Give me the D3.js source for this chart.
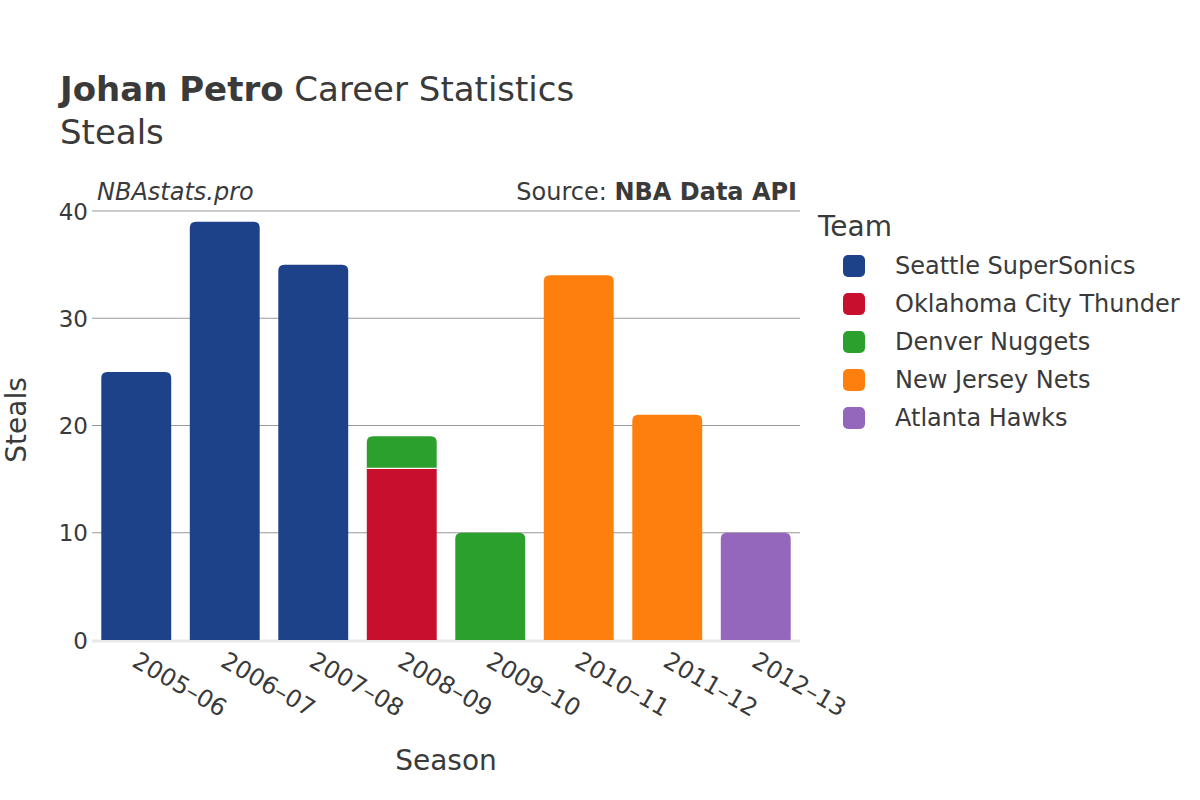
<!DOCTYPE html>
<html><head><meta charset="utf-8">
<script src="https://cdn.jsdelivr.net/npm/d3@7"></script>
<style>body{margin:0;background:#fff;} text{font-family:"DejaVu Sans",sans-serif;fill:#3a3a3a;}</style>
</head><body>
<svg id="chart" width="1200" height="800"></svg>
<script>
const seasons = ["2005–06","2006–07","2007–08","2008–09","2009–10","2010–11","2011–12","2012–13"];
const teams = ["Seattle SuperSonics","Oklahoma City Thunder","Denver Nuggets","New Jersey Nets","Atlanta Hawks"];
const teamColors = ["#1d428a","#c8102e","#2ca02c","#ff7f0e","#9467bd"];
const seattle = [25,39,35,0,0,0,0,0];
const okc     = [0,0,0,16,0,0,0,0];
const denver  = [0,0,0,3,10,0,0,0];
const nets    = [0,0,0,0,0,34,21,0];
const hawks   = [0,0,0,0,0,0,0,10];
const yTicks = [0,10,20,30,40];

const series = [seattle, okc, denver, nets, hawks];
const svg = d3.select("#chart");
const m = {left:92, right:800, top:211, bottom:640};
const x = d3.scaleBand().domain(seasons).range([m.left, m.right]).paddingInner(0.21).paddingOuter(0.105);
const y = d3.scaleLinear().domain([0,40]).range([m.bottom, m.top]);

// grid
const g = svg.append("g");
g.selectAll("line.grid").data(yTicks.filter(d=>d>0)).join("line")
  .attr("x1", m.left).attr("x2", m.right)
  .attr("y1", d=>y(d)).attr("y2", d=>y(d))
  .attr("stroke","#999").attr("stroke-width",1);
g.append("line").attr("x1",m.left).attr("x2",m.right).attr("y1",y(0)+1).attr("y2",y(0)+1)
  .attr("stroke","#e8e8e8").attr("stroke-width",3);

// y tick labels
const yAxis = d3.axisLeft(y).tickValues(yTicks).tickSize(0).tickPadding(4);
const ya = svg.append("g").attr("transform",`translate(${m.left},0)`).call(yAxis);
ya.select(".domain").remove();
ya.selectAll("text").style("font-size","23px").style("font-family","DejaVu Sans").attr("fill","#3a3a3a").attr("dy","0.35em");

// bars
function roundedTop(x0, y0, w, h, r){
  r = Math.min(r, h, w/2);
  return `M${x0},${y0+h}V${y0+r}Q${x0},${y0} ${x0+r},${y0}H${x0+w-r}Q${x0+w},${y0} ${x0+w},${y0+r}V${y0+h}Z`;
}
const bars = svg.append("g");
seasons.forEach((s, i) => {
  let base = 0;
  const segs = [];
  series.forEach((arr, t) => { if (arr[i] > 0) { segs.push({t, v0: base, v1: base + arr[i]}); base += arr[i]; } });
  segs.forEach((sg, k) => {
    const top = k === segs.length - 1;
    const x0 = x(s), w = x.bandwidth();
    const y0 = y(sg.v1), h = y(sg.v0) - y(sg.v1);
    if (top) bars.append("path").attr("d", roundedTop(x0, y0, w, h, 6)).attr("fill", teamColors[sg.t]);
    else bars.append("rect").attr("x",x0).attr("y",y0).attr("width",w).attr("height",h).attr("fill",teamColors[sg.t]);
    if (k > 0) bars.append("line").attr("x1",x0).attr("x2",x0+w).attr("y1",y(sg.v0)).attr("y2",y(sg.v0)).attr("stroke","#fff").attr("stroke-width",1.2);
  });
});

// x tick labels
const xa = svg.append("g");
seasons.forEach(s => {
  const cx = x(s) + x.bandwidth()/2;
  xa.append("text").attr("transform",`translate(${cx+3},${m.bottom+11}) rotate(30)`)
    .attr("text-anchor","start").attr("dy","0.7em").style("font-size","24px").text(s);
});

// titles
const t = svg.append("text").attr("x",60).attr("y",101).style("font-size","34px");
t.append("tspan").style("font-weight","bold").text("Johan Petro");
t.append("tspan").text(" Career Statistics");
svg.append("text").attr("x",60).attr("y",144).style("font-size","34px").text("Steals");
svg.append("text").attr("x",97).attr("y",200).style("font-size","24px").style("font-style","italic").text("NBAstats.pro");
const src = svg.append("text").attr("x",797).attr("y",200).attr("text-anchor","end").style("font-size","24px");
src.append("tspan").text("Source: ");
src.append("tspan").style("font-weight","bold").text("NBA Data API");

svg.append("text").attr("transform","translate(26,420) rotate(-90)").attr("text-anchor","middle").style("font-size","28px").text("Steals");
svg.append("text").attr("x",446).attr("y",770).attr("text-anchor","middle").style("font-size","28px").text("Season");

// legend
const lg = svg.append("g");
lg.append("text").attr("x",818).attr("y",236).style("font-size","28px").text("Team");
teams.forEach((tm, i) => {
  const yy = 266 + i*38;
  lg.append("rect").attr("x",843).attr("y",yy-11).attr("width",22).attr("height",22).attr("rx",5).attr("fill",teamColors[i]);
  lg.append("text").attr("x",895).attr("y",yy).attr("dy","0.35em").style("font-size","24px").text(tm);
});
</script>
</body></html>
